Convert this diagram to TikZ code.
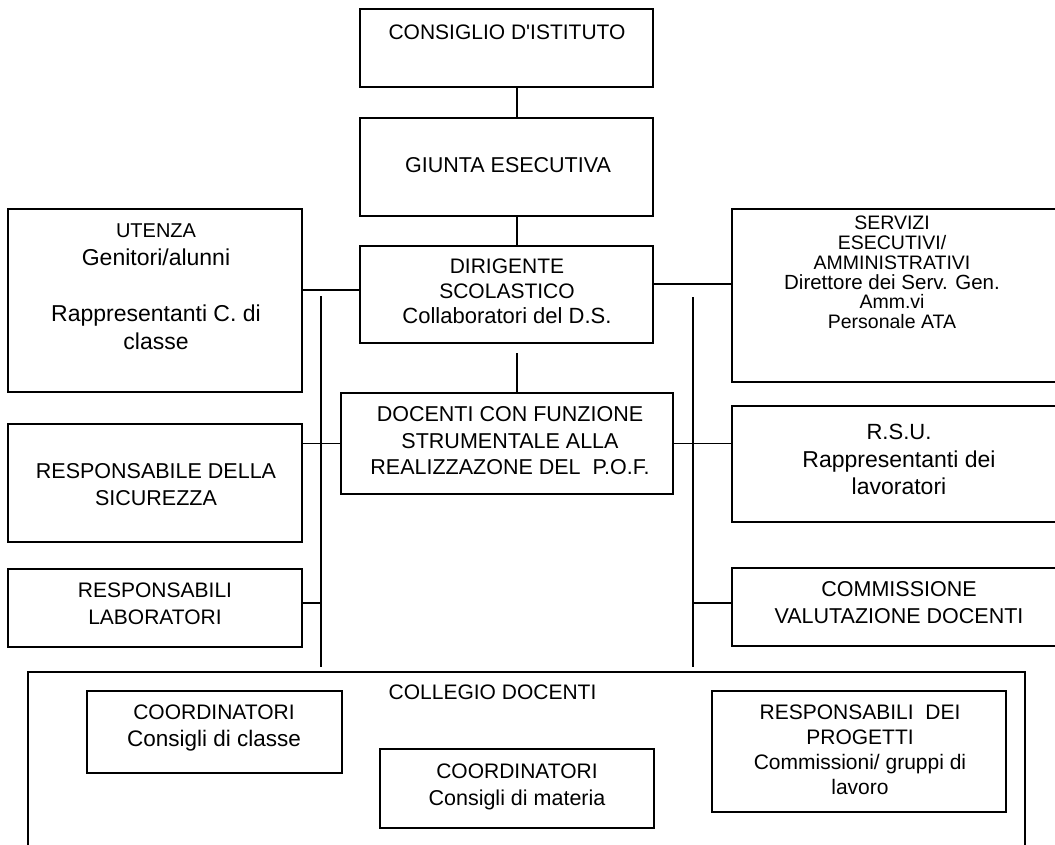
\documentclass[tikz,border=0pt]{standalone}
\usepackage{fontspec}
\setmainfont{Liberation Sans}
\usetikzlibrary{calc}
\newcommand{\fs}[2]{\fontsize{#1}{#2}\selectfont}
\begin{document}
\begin{tikzpicture}[x=1pt,y=-1pt,
  box/.style={draw, line width=1.4pt, inner sep=0pt, rectangle},
  lbl/.style={align=center, inner sep=0pt},
  conn/.style={line width=1.4pt}]
\useasboundingbox (0,0) rectangle (1055,845);
\clip (0,0) rectangle (1055,845);
% boxes
\node[box, minimum width=293pt, minimum height=78pt] (cons) at (506.5,48) {};
\node[box, minimum width=293pt, minimum height=98pt] (giunta) at (506.5,167) {};
\node[box, minimum width=293pt, minimum height=97pt] (dir) at (506.5,294.5) {};
\node[box, minimum width=332pt, minimum height=101pt] (doc) at (507,443.5) {};
\node[box, minimum width=294pt, minimum height=183pt] (utenza) at (155,300.5) {};
\node[box, minimum width=294pt, minimum height=118pt] (sic) at (155,483) {};
\node[box, minimum width=294pt, minimum height=78pt] (lab) at (155,608) {};
\node[box, minimum width=330pt, minimum height=173pt] (serv) at (897,295.5) {};
\node[box, minimum width=330pt, minimum height=116pt] (rsu) at (897,464) {};
\node[box, minimum width=330pt, minimum height=78pt] (comm) at (897,607) {};
\node[box, minimum width=997pt, minimum height=200pt] (collegio) at (526.5,772) {};
\node[box, minimum width=255pt, minimum height=82pt] (cclasse) at (214.5,732) {};
\node[box, minimum width=274pt, minimum height=79pt] (cmat) at (517,788.5) {};
\node[box, minimum width=294pt, minimum height=121pt] (resp) at (859,751.5) {};
% helper coordinates
\coordinate (spine) at (517,0);
\coordinate (lrow) at (0,290);
\coordinate (rrow) at (0,284);
\coordinate (lbusT) at (321,296);
\coordinate (lbusB) at (321,667);
\coordinate (rbusT) at (693,297);
\coordinate (rbusB) at (693,667);
\coordinate (dirfoot) at (517,353);
\coordinate (labrow) at (0,603);
% connectors
\draw[conn] (cons.south -| spine) -- (giunta.north -| spine);
\draw[conn] (giunta.south -| spine) -- (dir.north -| spine);
\draw[conn] (dirfoot) -- (doc.north -| spine);
\draw[conn] (utenza.east |- lrow) -- (dir.west |- lrow);
\draw[conn] (dir.east |- rrow) -- (serv.west |- rrow);
\draw[conn] (lbusT) -- (lbusB);
\draw[conn] (rbusT) -- (rbusB);
\draw[conn] (sic.east |- doc.west) -- (doc.west);
\draw[conn] (doc.east) -- (rsu.west |- doc.east);
\draw[conn] (lab.east |- labrow) -- (lbusT |- labrow);
\draw[conn] (rbusT |- labrow) -- (comm.west |- labrow);
% labels
\node[lbl, font=\fs{21}{25}] (tcons) at (507,32) {CONSIGLIO D\textquotesingle ISTITUTO};
\node[lbl, font=\fs{21.5}{25}] (tgiunta) at (508,165) {GIUNTA ESECUTIVA};
\node[lbl, font=\fs{21}{25}] (tdir) at (507,291) {DIRIGENTE\\SCOLASTICO\\{\fs{22}{25}Collaboratori del D.S.}};
\node[lbl, font=\fs{21.5}{26.75}] (tdoc) at (510,440.75) {DOCENTI CON FUNZIONE\\STRUMENTALE ALLA\\REALIZZAZONE DEL\ \ P.O.F.};
\node[lbl, font=\fs{23}{28}] (tut) at (156,287) {{\fs{20}{28}UTENZA}\\Genitori/alunni\\[28pt]Rappresentanti C. di\\classe};
\node[lbl, font=\fs{21.5}{27.5}] (tsic) at (156,484.75) {RESPONSABILE DELLA\\SICUREZZA};
\node[lbl, font=\fs{21}{27}] (tlab) at (155,604) {RESPONSABILI\\LABORATORI};
\node[lbl, font=\fs{19.5}{19.7}] (tserv) at (892,272.5) {SERVIZI\\ESECUTIVI/\\AMMINISTRATIVI\\{\fs{20.5}{19.7}Direttore dei Serv. Gen.}\\Amm.vi\\Personale ATA};
\node[lbl, font=\fs{23}{27.5}] (trsu) at (899,459.6) {{\fs{22}{27.5}R.S.U.}\\Rappresentanti dei\\lavoratori};
\node[lbl, font=\fs{21.5}{27}] (tcomm) at (899,602.5) {COMMISSIONE\\VALUTAZIONE DOCENTI};
\node[lbl, font=\fs{21}{25}] (tcoll) at (492.5,692.5) {COLLEGIO DOCENTI};
\node[lbl, font=\fs{21}{27.5}] (tccl) at (214,728) {COORDINATORI\\{\fs{22.5}{27.5}Consigli di classe}};
\node[lbl, font=\fs{21}{27.5}] (tcmat) at (517,787) {COORDINATORI\\{\fs{21.5}{27.5}Consigli di materia}};
\node[lbl, font=\fs{21}{25}] (tresp) at (860,750) {RESPONSABILI\ \ DEI\\PROGETTI\\Commissioni/ gruppi di\\lavoro};
\end{tikzpicture}
\end{document}
